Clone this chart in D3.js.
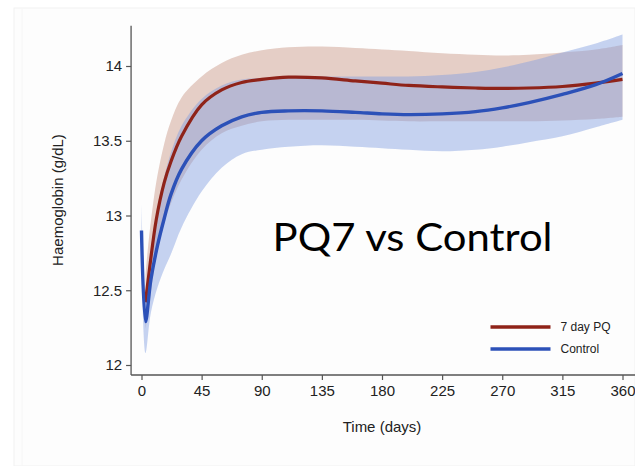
<!DOCTYPE html>
<html>
<head>
<meta charset="utf-8">
<script src="https://cdn.jsdelivr.net/npm/d3@7"></script>
<style>
  html, body { margin: 0; padding: 0; background: #ffffff; }
  svg { display: block; }
</style>
</head>
<body>
<svg id="chart" width="635" height="466"></svg>
<script>
// ---- data ----
const xTicks = [0, 45, 90, 135, 180, 225, 270, 315, 360];
const yTicks = [12, 12.5, 13, 13.5, 14];
const yTickLabels = ["12", "12.5", "13", "13.5", "14"];

const controlDays = [0, 3, 7, 12, 17, 22, 30, 45, 60, 75, 90, 110, 135, 160, 180, 200, 225, 250, 270, 290, 315, 340, 360];
const controlMean = [12.90, 12.29, 12.57, 12.80, 12.98, 13.14, 13.31, 13.50, 13.60, 13.66, 13.69, 13.70, 13.70, 13.69, 13.68, 13.675, 13.68, 13.695, 13.72, 13.755, 13.81, 13.875, 13.95];
const controlLo   = [12.72, 12.08, 12.35, 12.52, 12.64, 12.74, 12.92, 13.16, 13.32, 13.41, 13.44, 13.46, 13.47, 13.46, 13.45, 13.44, 13.43, 13.44, 13.46, 13.49, 13.53, 13.59, 13.64];
const controlHi   = [13.08, 12.50, 12.78, 13.06, 13.26, 13.42, 13.60, 13.78, 13.87, 13.91, 13.92, 13.93, 13.93, 13.93, 13.93, 13.93, 13.94, 13.96, 13.99, 14.03, 14.09, 14.15, 14.21];

const pqDays = [3, 5, 11, 17, 22, 30, 45, 60, 75, 90, 110, 135, 160, 180, 200, 225, 250, 270, 290, 315, 340, 360];
const pqMean = [12.42, 12.57, 12.97, 13.22, 13.36, 13.53, 13.74, 13.84, 13.89, 13.91, 13.925, 13.92, 13.90, 13.885, 13.87, 13.86, 13.853, 13.85, 13.853, 13.863, 13.885, 13.91];
const pqLo   = [12.24, 12.36, 12.72, 12.95, 13.08, 13.24, 13.44, 13.55, 13.60, 13.63, 13.64, 13.64, 13.64, 13.635, 13.63, 13.63, 13.63, 13.63, 13.63, 13.635, 13.645, 13.66];
const pqHi   = [12.60, 12.80, 13.22, 13.48, 13.63, 13.79, 13.93, 14.02, 14.075, 14.105, 14.125, 14.13, 14.12, 14.11, 14.10, 14.085, 14.075, 14.07, 14.075, 14.09, 14.11, 14.14];

const seriesNames = ["7 day PQ", "Control"];
const seriesColors = ["#8f2319", "#2c51b8"];
const bandColors = ["rgba(196,140,122,0.42)", "rgba(128,157,224,0.45)"];

const titleText = "PQ7 vs Control";
const xTitle = "Time (days)";
const yTitle = "Haemoglobin (g/dL)";

// ---- drawing ----
const svg = d3.select("#chart");
const W = 635, H = 466;

// faint slide panel
svg.append("rect").attr("x", 14).attr("y", 8).attr("width", W - 14).attr("height", H - 8)
  .attr("fill", "#fdfdfd").attr("stroke", "#f1f1f1").attr("stroke-width", 1);
svg.append("line").attr("x1", 22).attr("x2", 22).attr("y1", 9).attr("y2", H)
  .attr("stroke", "#f6f6f6").attr("stroke-width", 1);

const x = d3.scaleLinear().domain([0, 360]).range([141.5, 622.5]);
const y = d3.scaleLinear().domain([12, 14]).range([365, 66]);

const axisColor = "#555";
const labelColor = "#222";
const font = "'Liberation Sans', Arial, Helvetica, sans-serif";

const xLeft = x(-7.8);       // where axes meet
const yBottom = y(11.933);   // x-axis position
const yTop = y(14.27);

function seriesRows(days, mean, lo, hi) {
  return days.map((d, i) => ({ d, m: mean[i], lo: lo[i], hi: hi[i] }));
}
const pqRows = seriesRows(pqDays, pqMean, pqLo, pqHi);
const ctRows = seriesRows(controlDays, controlMean, controlLo, controlHi);

const curve = d3.curveCatmullRom.alpha(0.5);
const area = d3.area().curve(curve)
  .x(r => x(r.d)).y0(r => y(r.lo)).y1(r => y(r.hi));
const line = d3.line().curve(curve)
  .x(r => x(r.d)).y(r => y(r.m));

const plot = svg.append("g");
plot.append("path").datum(pqRows).attr("d", area).attr("fill", bandColors[0]);
plot.append("path").datum(ctRows).attr("d", area).attr("fill", bandColors[1]);
plot.append("path").datum(pqRows).attr("d", line).attr("fill", "none")
  .attr("stroke", seriesColors[0]).attr("stroke-width", 3.2).attr("stroke-linejoin", "round");
plot.append("path").datum(ctRows).attr("d", line).attr("fill", "none")
  .attr("stroke", seriesColors[1]).attr("stroke-width", 3.4).attr("stroke-linejoin", "round");

// axes
const yAxis = d3.axisLeft(y).tickValues(yTicks).tickFormat((d, i) => yTickLabels[i]).tickSize(5).tickPadding(4);
const gy = svg.append("g").attr("transform", `translate(${xLeft},0)`).call(yAxis);
gy.select(".domain").remove();
gy.selectAll(".tick line").attr("stroke", axisColor).attr("stroke-width", 1.2);
gy.selectAll(".tick text").attr("fill", labelColor).attr("font-family", font).attr("font-size", 15);
svg.append("line").attr("x1", xLeft).attr("x2", xLeft).attr("y1", yTop).attr("y2", yBottom)
  .attr("stroke", axisColor).attr("stroke-width", 1.3);

const xAxis = d3.axisBottom(x).tickValues(xTicks).tickSize(5).tickPadding(5);
const gx = svg.append("g").attr("transform", `translate(0,${yBottom})`).call(xAxis);
gx.select(".domain").remove();
gx.selectAll(".tick line").attr("stroke", axisColor).attr("stroke-width", 1.2);
gx.selectAll(".tick text").attr("fill", labelColor).attr("font-family", font).attr("font-size", 15);
svg.append("line").attr("x1", xLeft).attr("x2", W).attr("y1", yBottom).attr("y2", yBottom)
  .attr("stroke", axisColor).attr("stroke-width", 1.3);

// axis titles
svg.append("text").attr("x", x(180)).attr("y", 432).attr("text-anchor", "middle")
  .attr("font-family", font).attr("font-size", 15).attr("fill", labelColor).text(xTitle);
svg.append("text").attr("transform", `translate(63,200) rotate(-90)`).attr("text-anchor", "middle")
  .attr("font-family", font).attr("font-size", 15).attr("fill", labelColor).text(yTitle);

// legend
const legend = svg.append("g");
seriesNames.forEach((name, i) => {
  const ly = 327 + i * 22;
  legend.append("line").attr("x1", 490.5).attr("x2", 550.5).attr("y1", ly).attr("y2", ly)
    .attr("stroke", seriesColors[i]).attr("stroke-width", 3.4);
  legend.append("text").attr("x", 560.5).attr("y", ly + 4.3)
    .attr("font-family", font).attr("font-size", 12).attr("fill", labelColor).text(name);
});

// big overlay title
svg.append("text").attr("x", 272.5).attr("y", 251)
  .attr("font-family", "Lato, 'Open Sans', sans-serif").attr("font-size", 38)
  .attr("textLength", 280).attr("lengthAdjust", "spacingAndGlyphs")
  .attr("fill", "#000").text(titleText);
</script>
</body>
</html>
